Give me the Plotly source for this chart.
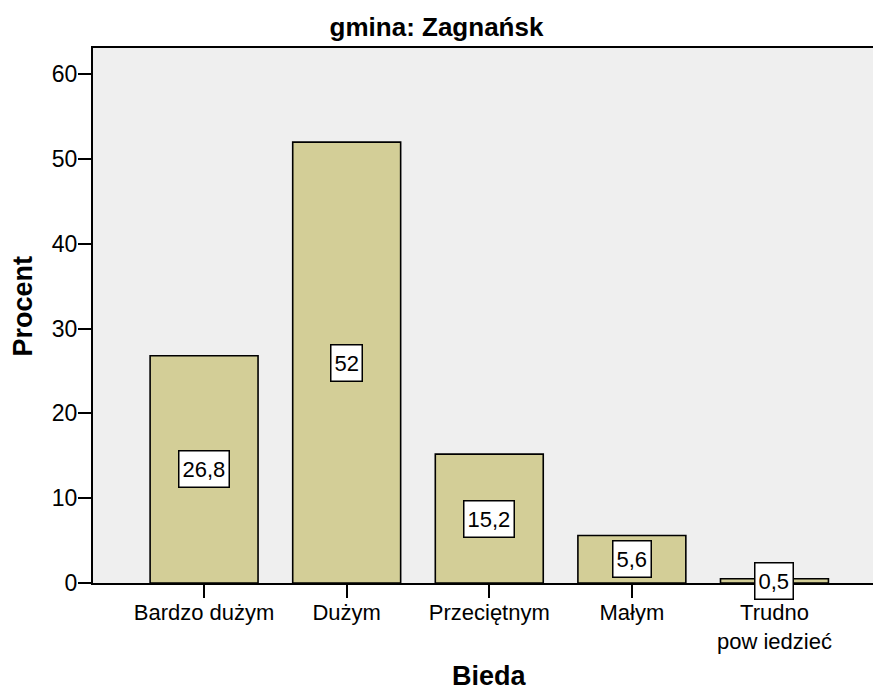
import plotly.graph_objects as go

categories = ["Bardzo dużym", "Dużym", "Przeciętnym", "Małym", "Trudno<br>pow iedzieć"]
values = [26.8, 52.0, 15.2, 5.6, 0.5]
y_ticks = [0, 10, 20, 30, 40, 50, 60]

FONT = "Liberation Sans, Arial, sans-serif"
BAR = "#D3CE97"
BG = "#EFEFEF"

x_idx = list(range(len(categories)))

fig = go.Figure()
fig.add_trace(go.Bar(
    x=x_idx, y=values, width=0.757,
    marker=dict(color=BAR, line=dict(color="black", width=1.6)),
    hoverinfo="skip",
))

def fmt(v):
    s = ("%g" % v)
    return s.replace(".", ",")

annotations = []
for i, v in zip(x_idx, values):
    annotations.append(dict(
        x=i, y=v / 2, xref="x", yref="y", text=fmt(v), showarrow=False,
        font=dict(family=FONT, size=22, color="black"),
        bgcolor="white", bordercolor="black", borderwidth=1.5, borderpad=3,
        height=29, valign="middle",
        xanchor="center", yanchor="middle",
    ))

annotations.append(dict(
    x=2, y=-0.174, xref="x", yref="paper", text="<b>Bieda</b>", showarrow=False,
    font=dict(family=FONT, size=27, color="black"), xanchor="center", yanchor="middle",
))
annotations.append(dict(
    x=-0.0903, y=0.518, xref="paper", yref="paper", text="<b>Procent</b>", showarrow=False,
    textangle=-90, font=dict(family=FONT, size=27, color="black"),
    xanchor="center", yanchor="middle",
))

fig.update_layout(
    width=873, height=692, autosize=False,
    margin=dict(l=92.5, r=0, t=47.5, b=108.5, pad=0),
    paper_bgcolor="white", plot_bgcolor=BG,
    showlegend=False,
    title=dict(text="<b>gmina: Zagnańsk</b>", x=0.5, xref="container", xanchor="center",
               y=1 - 27 / 692, yref="container", yanchor="middle",
               font=dict(family=FONT, size=26, color="black")),
    annotations=annotations,
    xaxis=dict(
        range=[-0.779, 4.691], tickmode="array", tickvals=x_idx, ticktext=categories,
        showgrid=False, zeroline=False, showline=True, linecolor="black", linewidth=2,
        mirror=True, ticks="outside", ticklen=13, tickwidth=2, tickcolor="black",
        ticklabelstandoff=-4,
        tickfont=dict(family=FONT, size=22, color="black"), fixedrange=True,
    ),
    yaxis=dict(
        range=[0, 63.1], tickmode="array", tickvals=y_ticks,
        ticktext=[str(t) for t in y_ticks],
        showgrid=False, zeroline=False, showline=True, linecolor="black", linewidth=2,
        ticks="outside", ticklen=13, tickwidth=2, tickcolor="black",
        ticklabelstandoff=-4,
        tickfont=dict(family=FONT, size=23, color="black"), fixedrange=True,
    ),
)

fig.write_html(
    "out.html",
    config={"displayModeBar": False},
    post_script="document.body.style.margin='0';document.body.style.overflow='hidden';",
)
